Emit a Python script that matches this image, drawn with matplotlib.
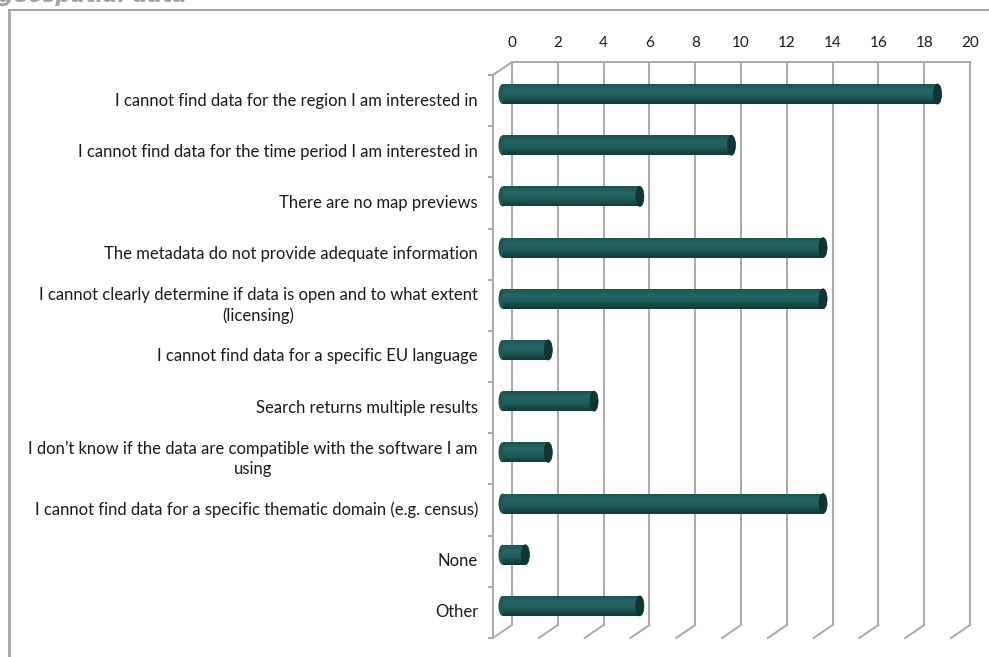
import matplotlib
matplotlib.use("Agg")
import matplotlib.pyplot as plt
import numpy as np
from matplotlib.patches import Ellipse
from matplotlib.lines import Line2D
from matplotlib.colors import to_rgb

# Survey responses: obstacles met when searching for geospatial data
categories = [
    "I cannot find data for the region I am interested in",
    "I cannot find data for the time period I am interested in",
    "There are no map previews",
    "The metadata do not provide adequate information",
    "I cannot clearly determine if data is open and to what extent\n(licensing)",
    "I cannot find data for a specific EU language",
    "Search returns multiple results",
    "I don\u2019t know if the data are compatible with the software I am\nusing",
    "I cannot find data for a specific thematic domain (e.g. census)",
    "None",
    "Other",
]
counts = [19, 10, 6, 14, 14, 2, 4, 2, 14, 1, 6]
x_ticks = [0, 2, 4, 6, 8, 10, 12, 14, 16, 18, 20]

W, H, DPI = 989, 657, 100
fig = plt.figure(figsize=(W / DPI, H / DPI), dpi=DPI)
fig.patch.set_facecolor("white")

# back wall of the 3-D plot area (pixel box)
bx0, bx1, by0, by1 = 512, 970, 62, 625
ax = fig.add_axes([bx0 / W, 1 - by1 / H, (bx1 - bx0) / W, (by1 - by0) / H])
n = len(categories)
ax.set_xlim(0, 20)
ax.set_ylim(n, 0)
ax.axis("off")

px_x = (bx1 - bx0) / 20.0      # pixels per value unit
px_y = (by1 - by0) / n         # pixels per category
# oblique depth: front plane is shifted left/down from the back wall
dx = -19 / px_x
dy = 13 / px_y

grid_c = "#a9a9a9"
grid_lw = 1.4

# back-wall gridlines, floor diagonals and top edge
for v in x_ticks:
    ax.add_line(Line2D([v, v], [0, n], color=grid_c, lw=grid_lw, clip_on=False))
    ax.add_line(Line2D([v, v + dx], [n, n + dy], color=grid_c, lw=grid_lw, clip_on=False))
    ax.text(v, -19 / px_y, str(v), ha="center", va="center",
            fontsize=11, color="#1a1a1a", family="Lato")
ax.add_line(Line2D([0, 20], [0, 0], color=grid_c, lw=grid_lw, clip_on=False))

# side wall: top diagonal and front vertical axis with ticks
ax.add_line(Line2D([0, dx], [0, dy], color=grid_c, lw=grid_lw, clip_on=False))
ax.add_line(Line2D([dx, dx], [dy, n + dy], color=grid_c, lw=grid_lw, clip_on=False))
for k in range(n + 1):
    ax.add_line(Line2D([dx - 4 / px_x, dx], [k + dy, k + dy], color=grid_c,
                       lw=grid_lw, clip_on=False))

# cylinders sit halfway between back wall and front plane
mx, my = dx / 2, dy / 2
bar_h = 20 / px_y
cap_w = 8 / px_x

# vertical shading profile of the cylinder (top -> bottom)
shade_stops = [(0.0, "#1b5452"), (0.3, "#246563"), (0.6, "#1f5c5a"), (1.0, "#123836")]
n_strips = 14


def shade(t):
    for (t0, c0), (t1, c1) in zip(shade_stops[:-1], shade_stops[1:]):
        if t0 <= t <= t1:
            f = (t - t0) / (t1 - t0)
            a, b = np.array(to_rgb(c0)), np.array(to_rgb(c1))
            return tuple(a + (b - a) * f)
    return to_rgb(shade_stops[-1][1])


strip_h = bar_h / n_strips
for i, v in enumerate(counts):
    yc = i + 0.5 + my
    # rounded left end
    ax.add_patch(Ellipse((mx, yc), cap_w, bar_h, facecolor="#1d5856",
                         edgecolor="none", clip_on=False, zorder=3))
    for s in range(n_strips):
        t = (s + 0.5) / n_strips
        ys = yc - bar_h / 2 + strip_h * (s + 0.5)
        ax.barh(ys, v, left=mx, height=strip_h * 1.05, color=shade(t),
                zorder=4, clip_on=False, edgecolor="none")
    # darker end face on the right
    ax.add_patch(Ellipse((mx + v, yc), cap_w, bar_h, facecolor="#123533",
                         edgecolor="#0f2b2a", lw=0.5, clip_on=False, zorder=7))

# category labels on the front plane
lab_x = (478 - bx0) / px_x
for i, lab in enumerate(categories):
    ax.text(lab_x, i + 0.5 + dy, lab, ha="right", va="center",
            multialignment="center", fontsize=12, color="#1a1a1a",
            family="Lato", linespacing=1.3)

# chart frame (left and top edges)
fig.add_artist(Line2D([9 / W, 9 / W], [0, 1 - 10 / H], color="#a6a6a6", lw=2,
                      transform=fig.transFigure))
fig.add_artist(Line2D([9 / W, 1], [1 - 10 / H, 1 - 10 / H], color="#a6a6a6", lw=1.5,
                      transform=fig.transFigure))

# heading above the chart frame
fig.text(-0.002, 1 - 2 / H, "geospatial data", ha="left", va="baseline",
         fontsize=15.5, fontweight="bold", fontstyle="italic", color="#a0a0a0",
         family="DejaVu Sans")

fig.savefig("out.png", dpi=DPI)
